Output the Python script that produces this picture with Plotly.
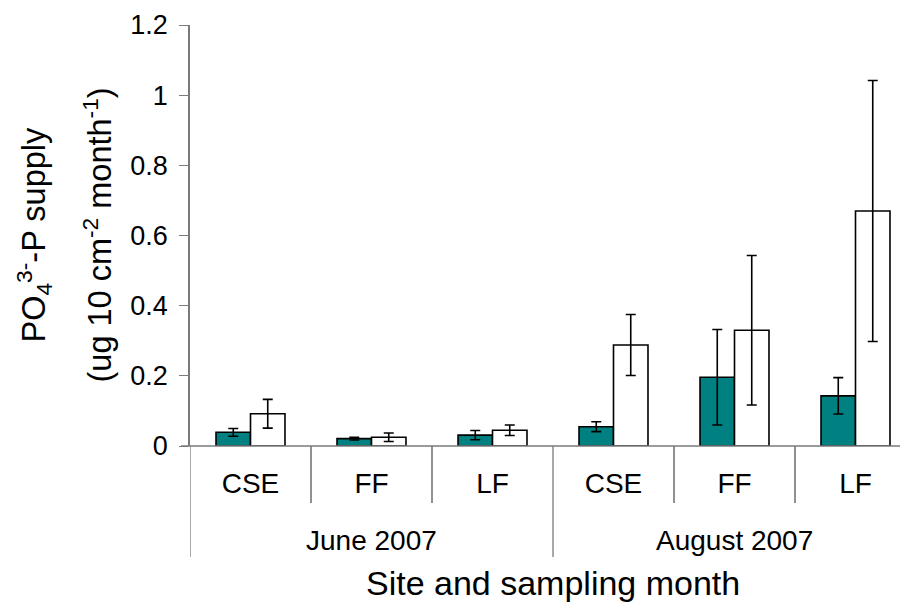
import plotly.graph_objects as go

# ---- data ----
sites = ["CSE", "FF", "LF", "CSE", "FF", "LF"]
months = ["June 2007", "August 2007"]
cat_ids = ["J-CSE", "J-FF", "J-LF", "A-CSE", "A-FF", "A-LF"]

series1_values = [0.039, 0.021, 0.031, 0.055, 0.196, 0.143]
series1_err = [0.011, 0.004, 0.013, 0.014, 0.136, 0.052]
series2_values = [0.092, 0.025, 0.045, 0.288, 0.330, 0.670]
series2_err = [0.041, 0.012, 0.015, 0.087, 0.213, 0.372]

y_tickvals = [0, 0.2, 0.4, 0.6, 0.8, 1.0, 1.2]
y_ticktext = ["0", "0.2", "0.4", "0.6", "0.8", "1", "1.2"]

y_title_line1 = "PO<sub>4</sub><sup>3-</sup>-P supply"
y_title_line2 = "(ug 10 cm<sup>-2</sup> month<sup>-1</sup>)"
x_title = "Site and sampling month"

FONT = "Liberation Sans, Arial, sans-serif"
AXIS_COLOR = "#7a7a7a"

# page has an 8px body margin; figure placed at (8, 8)
W, H = 900, 603
L, T, B, R = 182, 17, 165, 0
plot_w = W - L - R
plot_h = H - T - B

fig = go.Figure()
fig.add_trace(go.Bar(
    x=cat_ids, y=series1_values,
    marker=dict(color="#008080", line=dict(color="black", width=1.6)),
    error_y=dict(type="data", array=series1_err, color="black", thickness=1.6, width=5),
    showlegend=False,
))
fig.add_trace(go.Bar(
    x=cat_ids, y=series2_values,
    marker=dict(color="white", line=dict(color="black", width=1.6)),
    error_y=dict(type="data", array=series2_err, color="black", thickness=1.6, width=5),
    showlegend=False,
))

n = len(cat_ids)

shapes = []
for i in range(n + 1):
    xb = i - 0.5
    long_div = (i % 3 == 0)
    shapes.append(dict(
        type="line", xref="x", yref="paper",
        x0=xb, x1=xb, y0=0, y1=-(111 if long_div else 57) / plot_h,
        line=dict(color=AXIS_COLOR if long_div else "#555555", width=1.3),
    ))
shapes.append(dict(type="line", xref="paper", yref="paper",
                   x0=-9 / plot_w, x1=1, y0=0, y1=0,
                   line=dict(color=AXIS_COLOR, width=1.5)))

annotations = []
for gi, m in enumerate(months):
    annotations.append(dict(
        text=m, x=gi * 3 + 1, xref="x", y=-(94) / plot_h, yref="paper",
        xanchor="center", yanchor="middle", showarrow=False,
        font=dict(family=FONT, size=28, color="black"),
    ))
annotations.append(dict(
    text=x_title, x=(n - 1) / 2, xref="x",
    y=-(137) / plot_h, yref="paper", xanchor="center", yanchor="middle",
    showarrow=False, font=dict(family=FONT, size=34, color="black"),
))
for txt, px in [(y_title_line1, 33), (y_title_line2, 97)]:
    annotations.append(dict(
        text=txt, textangle=-90, xref="paper", yref="paper",
        x=((px - 8) - L) / plot_w, y=0.5, xanchor="center", yanchor="middle",
        showarrow=False, font=dict(family=FONT, size=32.5, color="black"),
    ))

fig.update_layout(
    width=W, height=H,
    margin=dict(l=L, r=R, t=T, b=B, pad=0),
    paper_bgcolor="white", plot_bgcolor="white",
    barmode="group", bargap=0.43, bargroupgap=0,
    font=dict(family=FONT, color="black"),
    shapes=shapes, annotations=annotations,
    xaxis=dict(
        type="category", categoryorder="array", categoryarray=cat_ids,
        tickvals=cat_ids, ticktext=sites,
        range=[-0.5, -0.5 + plot_w / 121],
        showline=False, showgrid=False, zeroline=False, ticks="",
        tickfont=dict(family=FONT, size=28, color="black"),
        ticklabelstandoff=18,
    ),
    yaxis=dict(
        range=[0, 1.2], tickvals=y_tickvals, ticktext=y_ticktext,
        showline=True, linecolor=AXIS_COLOR, linewidth=1.5,
        ticks="outside", ticklen=9, tickcolor=AXIS_COLOR, tickwidth=1.3,
        showgrid=False, zeroline=False,
        tickfont=dict(family=FONT, size=27, color="black"),
        ticklabelstandoff=6,
    ),
)

fig.write_html("out.html")
